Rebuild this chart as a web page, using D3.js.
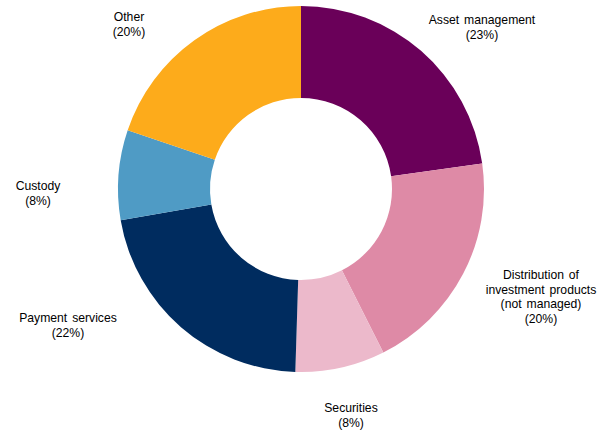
<!DOCTYPE html>
<html>
<head>
<meta charset="utf-8">
<script src="https://cdn.jsdelivr.net/npm/d3@7"></script>
<style>
  html, body { margin: 0; padding: 0; background: #fff; }
  svg { display: block; }
  text { font-family: "Liberation Sans", Arial, sans-serif; font-size: 12.2px; word-spacing: 1.5px; fill: #000; }
</style>
</head>
<body>
<svg id="chart" width="608" height="434"></svg>
<script>
// Segments, clockwise from 12 o'clock
const categories = [
  ["Asset management"],
  ["Distribution of", "investment products", "(not managed)"],
  ["Securities"],
  ["Payment services"],
  ["Custody"],
  ["Other"]
];
const shares = [23, 20, 8, 22, 8, 20];
const colors = ["#6a0059", "#de8aa6", "#ecb9cb", "#002c5f", "#4f9bc5", "#fdab1b"];

// Label anchor points (centre of text block, baseline of first line)
const labelPos = [
  [482, 24], [541, 279], [351, 412], [68, 322], [38, 190], [129, 21]
];

const svg = d3.select("#chart");
const cx = 301, cy = 189, rOuter = 183, rInner = 91;

const pie = d3.pie().sort(null).value(d => d);
const arc = d3.arc().innerRadius(rInner).outerRadius(rOuter);

const g = svg.append("g").attr("transform", `translate(${cx},${cy})`);
g.selectAll("path")
  .data(pie(shares))
  .join("path")
  .attr("d", arc)
  .attr("fill", (d, i) => colors[i]);

const labels = svg.append("g");
categories.forEach((lines, i) => {
  const t = labels.append("text")
    .attr("text-anchor", "middle")
    .attr("x", labelPos[i][0])
    .attr("y", labelPos[i][1]);
  lines.concat([`(${shares[i]}%)`]).forEach((s, j) => {
    t.append("tspan")
      .attr("x", labelPos[i][0])
      .attr("dy", j === 0 ? 0 : 14.5)
      .text(s);
  });
});
</script>
</body>
</html>
